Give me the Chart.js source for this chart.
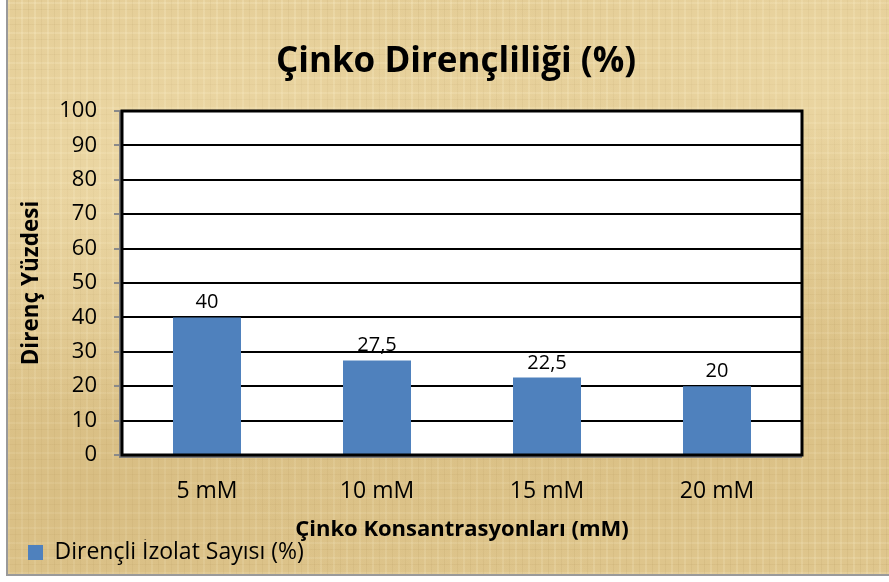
<!DOCTYPE html>
<html lang="tr">
<head>
<meta charset="utf-8">
<title>Çinko Dirençliliği (%)</title>
<script src="https://cdn.jsdelivr.net/npm/chart.js@4/dist/chart.umd.min.js"></script>
<style>
  html, body { margin: 0; padding: 0; background: #ffffff; overflow: hidden; }
  #frame {
    position: absolute; left: 6px; top: -2px; width: 900px; height: 576px;
    border-left: 2px solid #9a9a9a; border-bottom: 2px solid #9a9a9a;
    background-color: #e2ca92;
    background-image:
      radial-gradient(ellipse at 20% 30%, rgba(245,228,182,0.55), rgba(245,228,182,0) 45%),
      radial-gradient(ellipse at 75% 70%, rgba(206,176,112,0.45), rgba(206,176,112,0) 50%),
      radial-gradient(ellipse at 90% 15%, rgba(242,224,176,0.5), rgba(242,224,176,0) 40%),
      radial-gradient(ellipse at 10% 85%, rgba(204,174,112,0.45), rgba(204,174,112,0) 45%),
      repeating-linear-gradient(90deg, rgba(255,246,214,0.22) 0 2px, rgba(0,0,0,0) 2px 7px, rgba(150,120,60,0.10) 7px 8px, rgba(0,0,0,0) 8px 13px),
      repeating-linear-gradient(0deg, rgba(255,246,214,0.20) 0 2px, rgba(0,0,0,0) 2px 9px, rgba(150,120,60,0.10) 9px 10px, rgba(0,0,0,0) 10px 15px);
  }
  #chart { position: absolute; left: 8px; top: 0; }
</style>
</head>
<body>
<div id="frame"></div>
<canvas id="chart" width="881" height="576"></canvas>
<script>
// Çinko konsantrasyonlarına göre dirençli izolat yüzdeleri
const chartTitle = 'Çinko Dirençliliği (%)';
const categories = ['5 mM', '10 mM', '15 mM', '20 mM'];
const seriesName = 'Dirençli İzolat Sayısı (%)';
const resistance = [40, 27.5, 22.5, 20];
const yTicks = [0, 10, 20, 30, 40, 50, 60, 70, 80, 90, 100];
const xTitle = 'Çinko Konsantrasyonları (mM)';
const yTitle = 'Direnç Yüzdesi';

const FONT = '"Open Sans", Lato, "DejaVu Sans", sans-serif';
const BAR_BLUE = '#4f81bd';

const fmt = v => String(v).replace('.', ',');

// White plot background, heavy frame, chart heading and bar value labels
const decorations = {
  id: 'decorations',
  beforeDraw(chart) {
    const { ctx, chartArea: a } = chart;
    ctx.save();
    ctx.fillStyle = '#ffffff';
    ctx.fillRect(a.left, a.top, a.right - a.left, a.bottom - a.top);
    ctx.restore();
  },
  afterDatasetsDraw(chart) {
    const { ctx, chartArea: a } = chart;
    ctx.save();
    // frame
    ctx.strokeStyle = '#7f7f7f';
    ctx.lineWidth = 2;
    ctx.beginPath();
    ctx.moveTo(a.left - 2, a.top);
    ctx.lineTo(a.left - 2, a.bottom + 2);
    ctx.lineTo(a.right, a.bottom + 2);
    ctx.stroke();
    ctx.strokeStyle = '#000000';
    ctx.lineWidth = 3;
    ctx.strokeRect(a.left, a.top, a.right - a.left, a.bottom - a.top);
    // value labels above bars
    const meta = chart.getDatasetMeta(0);
    ctx.fillStyle = '#000000';
    ctx.font = '20px ' + FONT;
    ctx.textAlign = 'center';
    ctx.textBaseline = 'alphabetic';
    meta.data.forEach((bar, i) => {
      ctx.fillText(fmt(chart.data.datasets[0].data[i]), bar.x, bar.y - 9);
    });
    // heading
    ctx.font = 'bold 35px ' + FONT;
    ctx.textBaseline = 'middle';
    ctx.fillText(chartTitle, 448, 62);
    ctx.restore();
  }
};

new Chart(document.getElementById('chart'), {
  type: 'bar',
  data: {
    labels: categories,
    datasets: [{
      label: seriesName,
      data: resistance,
      backgroundColor: BAR_BLUE,
      borderWidth: 0,
      barPercentage: 0.4,
      categoryPercentage: 1.0
    }]
  },
  plugins: [decorations],
  options: {
    responsive: false,
    animation: false,
    layout: { padding: { top: 111, left: 18, right: 87, bottom: 2 } },
    plugins: {
      title: { display: false },
      tooltip: { enabled: false },
      legend: {
        display: true,
        position: 'bottom',
        align: 'start',
        labels: {
          boxWidth: 15,
          boxHeight: 15,
          padding: 2,
          color: '#000000',
          font: { family: FONT, size: 23 }
        }
      }
    },
    scales: {
      x: {
        afterFit(scale) { scale.height = 84; },
        grid: { display: false, drawTicks: false },
        border: { display: false },
        ticks: { color: '#000000', padding: 23, font: { family: FONT, size: 23 } },
        title: {
          display: true,
          text: xTitle,
          color: '#000000',
          padding: { top: 0, bottom: -4 },
          font: { family: FONT, size: 22, weight: 'bold' }
        }
      },
      y: {
        min: 0,
        max: 100,
        afterFit(scale) { scale.width = 96; },
        afterBuildTicks(scale) { scale.ticks = yTicks.map(v => ({ value: v })); },
        grid: {
          color: '#000000',
          lineWidth: 2,
          drawTicks: true,
          tickLength: 8,
          tickColor: '#8a8a8a',
          tickWidth: 2
        },
        border: { display: false },
        ticks: { color: '#000000', padding: 17, font: { family: FONT, size: 22 } },
        title: {
          display: true,
          text: yTitle,
          color: '#000000',
          padding: { top: -8, bottom: 0 },
          font: { family: FONT, size: 22.5, weight: 'bold' }
        }
      }
    }
  }
});
</script>
</body>
</html>
